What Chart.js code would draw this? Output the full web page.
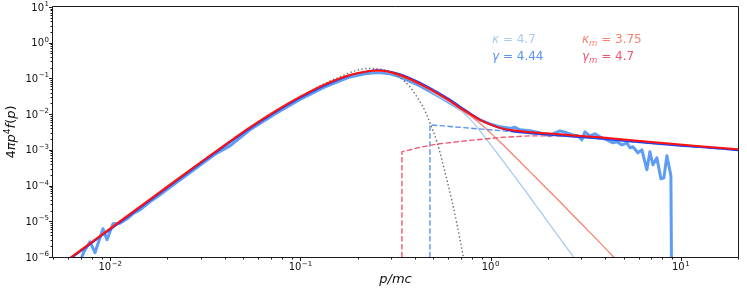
<!DOCTYPE html>
<html><head><meta charset="utf-8">
<script src="https://cdn.jsdelivr.net/npm/chart.js@4.4.1/dist/chart.umd.min.js"></script>
<style>html,body{margin:0;padding:0;background:#fff}#wrap{width:747px;height:295px;position:relative}</style>
</head><body><div id="wrap"><canvas id="c"></canvas></div>
<script>
// ---- values ----
const totalP = [0.00544,0.00883,0.01618,0.02964,0.04011,0.05429,0.07347,0.09945,0.1346,0.1822,0.2185,0.2557,0.3337,0.4249,0.5415,0.6111,0.6899,0.7785,0.8788,0.992,1.12,1.31,1.61,1.978,2.315,3.757,7.77,12.6,20.0];
const totalRedF = [5.79e-7,3.85e-6,4.08e-5,4.35e-4,1.38e-3,4.27e-3,0.01197,0.0304,0.0681,0.1253,0.1542,0.1656,0.1253,0.0703,0.0346,0.0235,0.0150,0.01019,0.00692,0.00518,0.00413,0.00352,0.00310,0.00290,0.00272,0.00224,0.00157,0.00126,0.00104];
const totalBlueF = [5.38e-7,3.58e-6,3.79e-5,4.05e-4,1.28e-3,3.97e-3,0.01113,0.0283,0.0633,0.1213,0.152,0.173,0.1338,0.0774,0.0381,0.0259,0.01651,0.01087,0.00715,0.00518,0.00400,0.00330,0.00290,0.00267,0.00250,0.00204,0.00143,0.00118,0.00097];

const maxwellP = [0.00544,0.00883,0.01618,0.02964,0.05429,0.09945,0.1346,0.1614,0.1935,0.2265,0.2619,0.2957,0.3337,0.3767,0.4101,0.4517,0.4798,0.5222,0.5893,0.6261,0.6652,0.7154,0.7513];
const maxwellF = [5.79e-7,3.85e-6,4.08e-5,4.35e-4,4.27e-3,0.0304,0.0726,0.1103,0.1623,0.1906,0.1810,0.1522,0.1068,0.0579,0.0304,0.01235,5.70e-3,1.678e-3,1.453e-4,3.76e-5,8.55e-6,1.161e-6,2.82e-7];

const kappaP = [0.00544,0.01618,0.05429,0.09945,0.1822,0.2557,0.3337,0.4249,0.5415,0.6494,0.7785,0.9567,1.12,1.343,1.61,2.051,2.71,3.329];
const kappaF = [5.7e-7,3.9e-5,4.1e-3,0.0295,0.122,0.162,0.123,0.0690,0.0304,0.01704,7.38e-3,1.909e-3,6.39e-4,1.762e-4,4.71e-5,8.01e-6,1.054e-6,2.32e-7];

const kappaMP = [0.00544,0.02964,0.09945,0.2557,0.4249,0.5415,0.6111,0.6899,0.7785,0.8788,0.992,1.12,1.427,1.817,2.315,2.949,3.757,4.398,5.403];
const kappaMF = [5.8e-7,4.35e-4,0.0300,0.164,0.0695,0.0343,0.0233,0.01451,9.24e-3,5.52e-3,3.09e-3,1.678e-3,4.63e-4,1.277e-4,3.52e-5,9.41e-6,2.52e-6,1.054e-6,3.42e-7];

const gammaP = [0.4798,0.4798,20.0];
const gammaF = [1e-8,5.01e-3,9.7e-4];

const gammaMP = [0.3419,0.3419,0.4249,0.5222,0.7785,1.161,1.61,2.315,3.757,7.77,12.6,20.0];
const gammaMF = [1e-8,8.82e-4,1.178e-3,1.447e-3,1.848e-3,2.244e-3,2.47e-3,2.47e-3,2.10e-3,1.524e-3,1.216e-3,1.003e-3];

const dataP = [0.006934,0.007278,0.007822,0.008314,0.00916,0.009614,0.01034,0.01125,0.01225,0.01317,0.01434,0.01618,0.01827,0.02061,0.02472,0.02964,0.03554,0.04262,0.05429,0.07347,0.09945,0.1346,0.1822,0.2185,0.2557,0.2957,0.3337,0.4249,0.5415,0.6899,0.8788,0.992,1.12,1.264,1.343,1.427,1.61,1.817,2.051,2.179,2.315,2.52,2.71,2.879,3.022,3.134,3.329,3.537,3.757,4.09,4.398,4.616,4.905,5.211,5.403,5.604,5.953,6.248,6.637,6.883,7.138,7.491,7.864,8.155,8.456,8.876,8.985];
const dataF = [7.4e-7,1.41e-6,2.68e-6,1.32e-6,6.19e-6,3.05e-6,8.55e-6,8.83e-6,1.179e-5,1.627e-5,2.10e-5,3.52e-5,5.53e-5,8.96e-5,1.82e-4,3.70e-4,7.50e-4,1.297e-3,3.63e-3,0.01018,0.0259,0.0579,0.1103,0.1355,0.1455,0.1355,0.1103,0.0618,0.0304,0.01405,6.92e-3,5.35e-3,4.41e-3,4.00e-3,4.27e-3,3.63e-3,3.41e-3,3.00e-3,2.47e-3,3.00e-3,3.41e-3,3.00e-3,2.63e-3,2.47e-3,1.91e-3,3.20e-3,2.47e-3,2.81e-3,2.32e-3,1.91e-3,1.57e-3,1.68e-3,1.38e-3,1.57e-3,1.14e-3,1.22e-3,8.27e-4,1.00e-3,2.77e-4,8.82e-4,3.82e-4,5.99e-4,1.55e-4,1.65e-4,6.82e-4,1.88e-4,1e-8];

const xTickExps = [-2,-1,0,1];
const yTickExps = [-6,-5,-4,-3,-2,-1,0,1];
const paramLabels = {kappa:'4.7', gamma:'4.44', kappaM:'3.75', gammaM:'4.7'};

// ---- colours / styles ----
const C = {data:'#5f9cf4', blue:'#2244ee', red:'#ff1111', kappa:'#a8cbf0', kappaM:'#f7826f',
           gammaD:'#5b93f0', gammaMD:'#f4566f', maxwell:'#666666', axis:'#1a1a1a'};
const FONT = "'DejaVu Sans'";

function xy(ps, fs){ return ps.map((p,i)=>({x:p, y:fs[i]})); }

function drawRuns(ctx, parts, x, y, measureOnly){
  let cx = x;
  for (const p of parts){
    ctx.font = p.f;
    if(!measureOnly) ctx.fillText(p.t, cx, y + (p.dy||0));
    cx += ctx.measureText(p.t).width + (p.gap||0);
  }
  return cx - x;
}
function powParts(e){
  return [{t:'10', f:'10px '+FONT, gap:0.5},{t:(e<0?'\u2212'+(-e):''+e), f:'7px '+FONT, dy:-4.5}];
}

const axesPlugin = {
  id:'axesDraw',
  afterDraw(chart){
    const {ctx, chartArea:a, scales:{x, y}} = chart;
    const L = Math.round(a.left), R = Math.round(a.right), T = Math.round(a.top), B = Math.round(a.bottom);
    ctx.save();
    ctx.strokeStyle = C.axis; ctx.lineWidth = 1;
    ctx.beginPath();
    ctx.moveTo(L-0.5, T-0.5); ctx.lineTo(R+0.5, T-0.5); ctx.lineTo(R+0.5, B+0.5); ctx.lineTo(L-0.5, B+0.5); ctx.closePath();
    ctx.stroke();
    // ticks
    ctx.beginPath();
    for (let e=-3; e<=1; e++) for (let k=1; k<=9; k++){
      const v = k*Math.pow(10,e);
      if (v < x.min*0.9999 || v > x.max*1.0001) continue;
      const px = Math.round(x.getPixelForValue(v)) + 0.5;
      ctx.moveTo(px, B+0.5); ctx.lineTo(px, B+0.5+(k===1?3.5:2));
    }
    for (let e=-6; e<=1; e++) for (let k=1; k<=9; k++){
      const v = k*Math.pow(10,e);
      if (v < y.min*0.9999 || v > y.max*1.0001) continue;
      const py = Math.round(y.getPixelForValue(v)) + 0.5;
      ctx.moveTo(L-0.5, py); ctx.lineTo(L-0.5-(k===1?3.5:2), py);
    }
    ctx.stroke();
    // tick labels
    ctx.fillStyle = '#111'; ctx.textBaseline = 'alphabetic'; ctx.textAlign = 'left';
    for (const e of xTickExps){
      const px = x.getPixelForValue(Math.pow(10,e));
      const w = drawRuns(ctx, powParts(e), 0, 0, true);
      drawRuns(ctx, powParts(e), px - w/2, B + 13);
    }
    for (const e of yTickExps){
      const py = y.getPixelForValue(Math.pow(10,e));
      const w = drawRuns(ctx, powParts(e), 0, 0, true);
      drawRuns(ctx, powParts(e), L - 4 - w, py + 3.5);
    }
    // axis titles
    const it = 'italic 13px '+FONT, rg = '13px '+FONT;
    const xt = [{t:'p/mc', f:it}];
    const xw = drawRuns(ctx, xt, 0, 0, true);
    drawRuns(ctx, xt, (L+R)/2 - xw/2, B + 26);
    const yt = [{t:'4', f:rg},{t:'\u03c0p', f:it},{t:'4', f:'9px '+FONT, dy:-5},{t:'f', f:it},{t:'(', f:rg},{t:'p', f:it},{t:')', f:rg}];
    const yw = drawRuns(ctx, yt, 0, 0, true);
    ctx.save(); ctx.translate(15, (T+B)/2); ctx.rotate(-Math.PI/2);
    drawRuns(ctx, yt, -yw/2, 0); ctx.restore();
    // annotations
    const ai = 'italic 12px '+FONT, ar = '12px '+FONT, sub = 'italic 8.5px '+FONT;
    ctx.fillStyle = C.kappa;  drawRuns(ctx, [{t:'\u03ba', f:ai},{t:' = '+paramLabels.kappa, f:ar}], 492, 42.5);
    ctx.fillStyle = C.gammaD; drawRuns(ctx, [{t:'\u03b3', f:ai},{t:' = '+paramLabels.gamma, f:ar}], 492, 60);
    ctx.fillStyle = C.kappaM; drawRuns(ctx, [{t:'\u03ba', f:ai},{t:'m', f:sub, dy:3},{t:' = '+paramLabels.kappaM, f:ar}], 582, 42.5);
    ctx.fillStyle = C.gammaMD; drawRuns(ctx, [{t:'\u03b3', f:ai},{t:'m', f:sub, dy:3},{t:' = '+paramLabels.gammaM, f:ar}], 582, 60);
    ctx.restore();
  }
};

const smooth = {cubicInterpolationMode:'monotone', tension:0.4};
const datasets = [
  Object.assign({data:xy(totalP,totalRedF), borderColor:C.red, borderWidth:2, order:1}, smooth),
  Object.assign({data:xy(totalP,totalBlueF), borderColor:C.blue, borderWidth:1.6, order:2}, smooth),
  Object.assign({data:xy(maxwellP,maxwellF), borderColor:C.maxwell, borderWidth:1.4, borderDash:[1.4,2.4], order:3}, smooth),
  {data:xy(gammaMP,gammaMF), borderColor:C.gammaMD, borderWidth:1.4, borderDash:[5.5,2.4], tension:0, order:4},
  {data:xy(gammaP,gammaF), borderColor:C.gammaD, borderWidth:1.4, borderDash:[5.5,2.4], tension:0, order:5},
  Object.assign({data:xy(kappaMP,kappaMF), borderColor:C.kappaM, borderWidth:1.3, order:6}, smooth),
  Object.assign({data:xy(kappaP,kappaF), borderColor:C.kappa, borderWidth:1.3, order:7}, smooth),
  {data:xy(dataP,dataF), borderColor:C.data, borderWidth:3, tension:0, borderJoinStyle:'round', order:8}
];
datasets.forEach(d=>{ d.pointRadius = 0; d.fill = false; d.clip = 0; if(!d.borderCapStyle) d.borderCapStyle = 'butt'; });

new Chart(document.getElementById('c'), {
  type:'line',
  data:{datasets},
  options:{
    responsive:true, maintainAspectRatio:false, animation:false, devicePixelRatio:1,
    layout:{padding:{left:53, right:9, top:7, bottom:38}},
    scales:{
      x:{type:'logarithmic', min:0.005, max:20, display:false},
      y:{type:'logarithmic', min:1e-6, max:10, display:false}
    },
    plugins:{legend:{display:false}, tooltip:{enabled:false}},
    elements:{point:{radius:0}}
  },
  plugins:[axesPlugin]
});
</script></body></html>
